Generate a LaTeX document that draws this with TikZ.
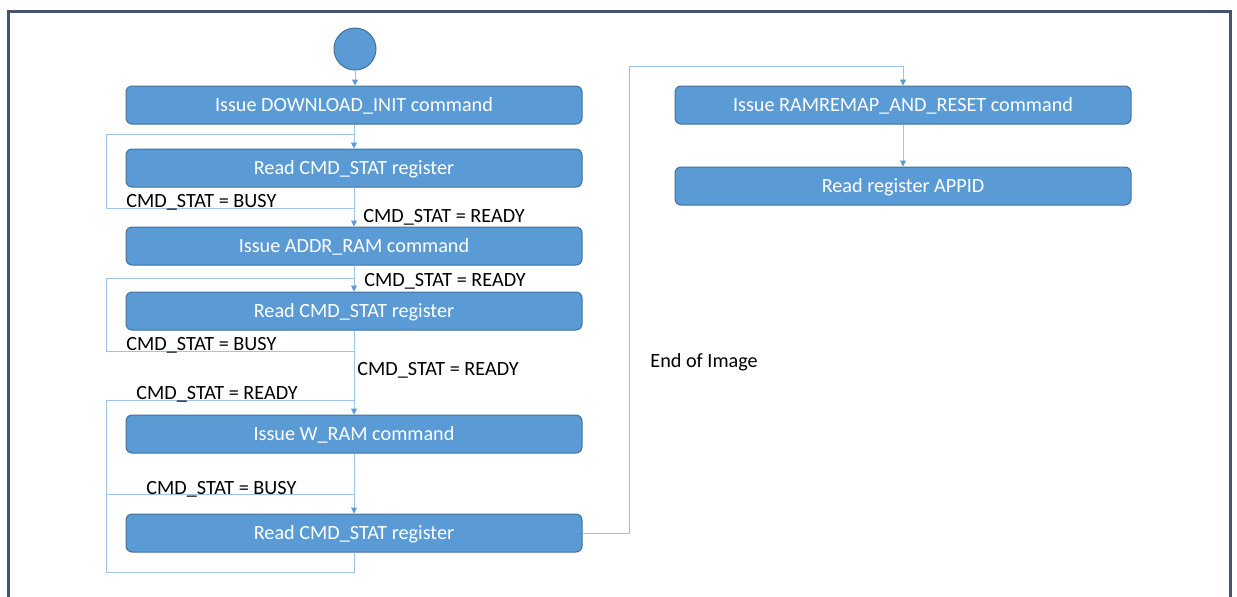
\documentclass[tikz,border=0pt]{standalone}
\usepackage{fontspec}
\setmainfont{Carlito}
\usetikzlibrary{arrows.meta,positioning}
\definecolor{boxblue}{HTML}{5B9BD5}
\definecolor{boxedge}{HTML}{41719C}
\definecolor{linkblue}{HTML}{9DC3E6}
\definecolor{framegray}{HTML}{44546A}
\tikzset{
  stepbox/.style={draw=boxedge, fill=boxblue, rounded corners=3pt, line width=0.5pt,
    minimum width=228pt, minimum height=19pt, text height=6.5pt, text depth=0pt,
    text=white, font=\fontsize{10.1}{12}\selectfont},
  startdot/.style={circle, draw=boxedge, fill=boxblue, line width=0.5pt, minimum size=21pt, inner sep=0pt},
  link/.style={draw=linkblue, line width=0.5pt},
  tip/.style={-{Triangle[length=3pt,width=3pt,color=boxblue]}},
  cond/.style={anchor=west, inner sep=0pt, font=\fontsize{10.1}{12}\selectfont}
}
\begin{document}
\begin{tikzpicture}[x=0.5pt,y=-0.5pt]
  \useasboundingbox (0,0) rectangle (1237,596);
  \draw[framegray,line width=1.5pt] (8,600) -- (8,11.5) -- (1230,11.5) -- (1230,600); % frame
  % left column
  \node[startdot] (start) at (355,49) {};
  \node[stepbox] (init) at (354,105) {Issue DOWNLOAD\_INIT command};
  \node[stepbox] (stat1) at (354,168) {Read CMD\_STAT register};
  \node[stepbox] (addr) at (354,246) {Issue ADDR\_RAM command};
  \node[stepbox] (stat2) at (354,311) {Read CMD\_STAT register};
  \node[stepbox] (wram) at (354,434) {Issue W\_RAM command};
  \node[stepbox] (stat3) at (354,533) {Read CMD\_STAT register};
  % right column
  \node[stepbox] (remap) at (903,105) {Issue RAMREMAP\_AND\_RESET command};
  \node[stepbox] (appid) at (903,186) {Read register APPID};
  % straight arrows
  \draw[link,tip] (start) -- (start |- init.north);
  \draw[link,tip] (init) -- (init.south |- stat1.north);
  \draw[link,tip] (stat1) -- (stat1.south |- addr.north);
  \draw[link,tip] (addr) -- (addr.south |- stat2.north);
  \draw[link,tip] (stat2) -- (stat2.south |- wram.north);
  \draw[link,tip] (wram) -- (wram.south |- stat3.north);
  \draw[link,tip] (remap) -- (remap.south |- appid.north);
  % busy loops
  \draw[link] (stat1.south) -- ++(0,21) -- ++(-248,0) -- ++(0,-74) -- ++(248,0);
  \draw[link] (stat2.south) -- ++(0,21) -- ++(-248,0) -- ++(0,-73) -- ++(248,0);
  \draw[link] (stat3.south) -- ++(0,20) -- ++(-248,0) -- ++(0,-78) coordinate (split) -- ++(248,0);
  \draw[link] (split) -- ++(0,-94) -- ++(248,0);
  % on to the right column
  \draw[link,tip] (stat3.east) -- ++(47,0) -- ++(0,-467) -| (remap.north);
  % conditions
  \node[cond] (busyA) at (126,202) {CMD\_STAT = BUSY};
  \node[cond] (readyA) at (363,217) {CMD\_STAT = READY};
  \node[cond] (readyB) at (364,281) {CMD\_STAT = READY};
  \node[cond] (busyB) at (126,345) {CMD\_STAT = BUSY};
  \node[cond] (readyC) at (357,370) {CMD\_STAT = READY};
  \node[cond] (readyD) at (136,394) {CMD\_STAT = READY};
  \node[cond] (busyC) at (146,489) {CMD\_STAT = BUSY};
  \node[cond] (eoi) at (650,362) {End of Image};
\end{tikzpicture}
\end{document}
